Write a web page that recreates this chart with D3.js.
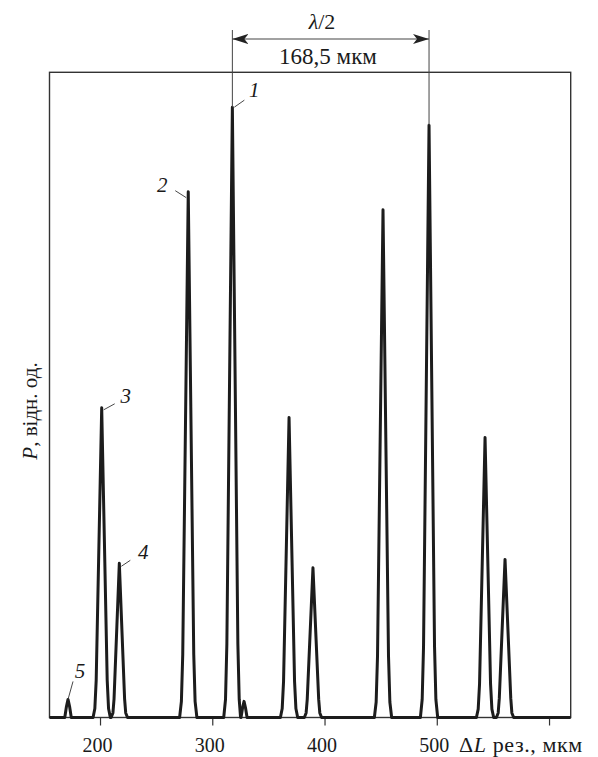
<!DOCTYPE html>
<html>
<head>
<meta charset="utf-8">
<script src="https://cdn.jsdelivr.net/npm/d3@7"></script>
<style>
  body { margin: 0; background: #fff; }
  svg text { font-family: "Liberation Serif", "Times New Roman", Times, "DejaVu Serif", serif; fill: #1a1a1a; }
</style>
</head>
<body>
<svg width="598" height="757"></svg>
<script>
// x ticks (ΔL, мкм)
const xTicks = [200, 300, 400, 500, 600];
const xTickLabels = ["200", "300", "400", "500", ""];

// trace: ΔL (мкм) and P (rel. units)
const traceX = [155,
  168.6, 170.1, 171.5, 172.9, 174.4,
  193.8, 195.4, 196.6, 201.5, 206.4, 207.6, 209.2,
  209.9, 211.5, 212.5, 217.2, 221.9, 222.9, 224.5,
  270.9, 272.5, 273.7, 278.6, 283.5, 284.7, 286.3,
  310.2, 311.8, 313.0, 317.9, 322.8, 324.0, 325.2,
  325.6, 327.0, 328.3, 329.6, 331.0,
  360.7, 362.3, 363.5, 368.4, 373.3, 374.5, 376.1,
  382.0, 383.6, 384.6, 389.7, 394.8, 395.8, 397.4,
  444.4, 446.0, 447.2, 452.1, 457.0, 458.2, 459.8,
  485.4, 487.0, 488.2, 493.1, 498.0, 499.2, 500.8,
  535.3, 536.9, 538.1, 543.0, 547.9, 549.1, 550.7,
  553.1, 554.7, 555.7, 560.8, 565.9, 566.9, 568.5,
  619.3];
const traceP = [0,
  0, 0.017, 0.028, 0.017, 0,
  0, 0.014, 0.058, 0.480, 0.058, 0.014, 0,
  0, 0.007, 0.029, 0.239, 0.029, 0.007, 0,
  0, 0.025, 0.098, 0.815, 0.098, 0.025, 0,
  0, 0.028, 0.114, 0.946, 0.114, 0.028, 0,
  0, 0.015, 0.025, 0.015, 0,
  0, 0.014, 0.056, 0.465, 0.056, 0.014, 0,
  0, 0.007, 0.028, 0.232, 0.028, 0.007, 0,
  0, 0.024, 0.095, 0.787, 0.095, 0.024, 0,
  0, 0.028, 0.110, 0.918, 0.110, 0.028, 0,
  0, 0.013, 0.052, 0.434, 0.052, 0.013, 0,
  0, 0.007, 0.030, 0.245, 0.030, 0.007, 0,
  0];

// numbered peaks
const peakNames = ["1", "2", "3", "4", "5"];
const peakX = [317.9, 278.6, 201.5, 217.2, 171.5];
const peakP = [0.946, 0.815, 0.480, 0.239, 0.028];

// λ/2 distance marker between two peaks
const spanX = [317.9, 493.1];
const spanP = [0.946, 0.918];
const spanText = "168,5 мкм";

const serif = '"Liberation Serif", "Times New Roman", Times, "DejaVu Serif", serif';
const svg = d3.select('svg');
const mLeft = 49.5, mRight = 570.7, mTop = 72.3, mBottom = 717.5;

const x = d3.scaleLinear().domain([155, 619.3]).range([mLeft, mRight]);
const y = d3.scaleLinear().domain([0, 1]).range([mBottom, mTop]);

// frame
svg.append('rect')
  .attr('x', mLeft).attr('y', mTop)
  .attr('width', mRight - mLeft).attr('height', mBottom - mTop)
  .attr('fill', 'none').attr('stroke', '#333').attr('stroke-width', 1.4);

// x axis
const xAxis = svg.append('g')
  .attr('transform', 'translate(0,' + mBottom + ')')
  .call(d3.axisBottom(x).tickValues(xTicks).tickSize(8)
    .tickFormat((d, i) => xTickLabels[i]));
xAxis.attr('font-family', serif).attr('font-size', 20);
xAxis.select('.domain').remove();
xAxis.selectAll('line').attr('stroke', '#333').attr('stroke-width', 1.2);
xAxis.selectAll('text')
  .attr('y', 34).attr('dy', 0)
  .attr('dx', -3)
  .attr('font-family', serif)
  .attr('fill', '#1a1a1a');

svg.append('text')
  .attr('x', 459).attr('y', 751.5)
  .attr('font-family', serif)
  .attr('font-size', 22)
  .attr('letter-spacing', 0.6)
  .html('Δ<tspan font-style="italic">L</tspan> рез., мкм');

// y label
svg.append('text')
  .attr('transform', 'translate(37,411) rotate(-90)')
  .attr('text-anchor', 'middle')
  .attr('font-family', serif)
  .attr('font-size', 21)
  .html('<tspan font-style="italic">P</tspan>, відн. од.');

// trace
const pts = traceX.map((d, i) => [d, traceP[i]]);
svg.append('path')
  .datum(pts)
  .attr('fill', 'none')
  .attr('stroke', '#1c1c1c')
  .attr('stroke-width', 3)
  .attr('stroke-linejoin', 'round')
  .attr('d', d3.line().x(d => x(d[0])).y(d => y(d[1])));

// peak labels with leader lines
const labelDx = [22, -26, 24, 24, 12];
const labelDy = [-17, -7, -12, -11, -28];
const leadA = [[2, 0], [-2, 6], [2, 2], [2, 3], [0, 0]];
const leadB = [[12, -7], [-13, -1], [13, -4], [11, -3], [5, -18]];
peakNames.forEach((n, i) => {
  const px = x(peakX[i]), py = y(peakP[i]);
  svg.append('line')
    .attr('x1', px + leadA[i][0]).attr('y1', py + leadA[i][1])
    .attr('x2', px + leadB[i][0]).attr('y2', py + leadB[i][1])
    .attr('stroke', '#333').attr('stroke-width', 0.9);
  svg.append('text')
    .attr('x', px + labelDx[i]).attr('y', py + labelDy[i] + 7)
    .attr('text-anchor', 'middle')
    .attr('font-family', serif)
    .attr('font-size', 21).attr('font-style', 'italic')
    .text(n);
});

// λ/2 dimension
svg.append('defs').append('marker')
  .attr('id', 'arr').attr('viewBox', '0 0 16 10')
  .attr('refX', 16).attr('refY', 5)
  .attr('markerWidth', 16).attr('markerHeight', 10)
  .attr('markerUnits', 'userSpaceOnUse')
  .attr('orient', 'auto-start-reverse')
  .append('path').attr('d', 'M0,0 L16,5 L0,10 L4,5 Z').attr('fill', '#222');

spanX.forEach((d, i) => {
  svg.append('line')
    .attr('x1', x(d)).attr('x2', x(d))
    .attr('y1', 30).attr('y2', y(spanP[i]))
    .attr('stroke', '#444').attr('stroke-width', 1);
});
svg.append('line')
  .attr('x1', x(spanX[0])).attr('x2', x(spanX[1]))
  .attr('y1', 39).attr('y2', 39)
  .attr('stroke', '#444').attr('stroke-width', 1.2)
  .attr('marker-start', 'url(#arr)').attr('marker-end', 'url(#arr)');

svg.append('text')
  .attr('x', 322).attr('y', 29)
  .attr('text-anchor', 'middle')
  .attr('font-family', serif)
  .attr('font-size', 22)
  .html('<tspan font-style="italic">λ</tspan>/2');
svg.append('text')
  .attr('x', 328).attr('y', 64)
  .attr('text-anchor', 'middle')
  .attr('font-family', serif)
  .attr('font-size', 23)
  .text(spanText);
</script>
</body>
</html>
